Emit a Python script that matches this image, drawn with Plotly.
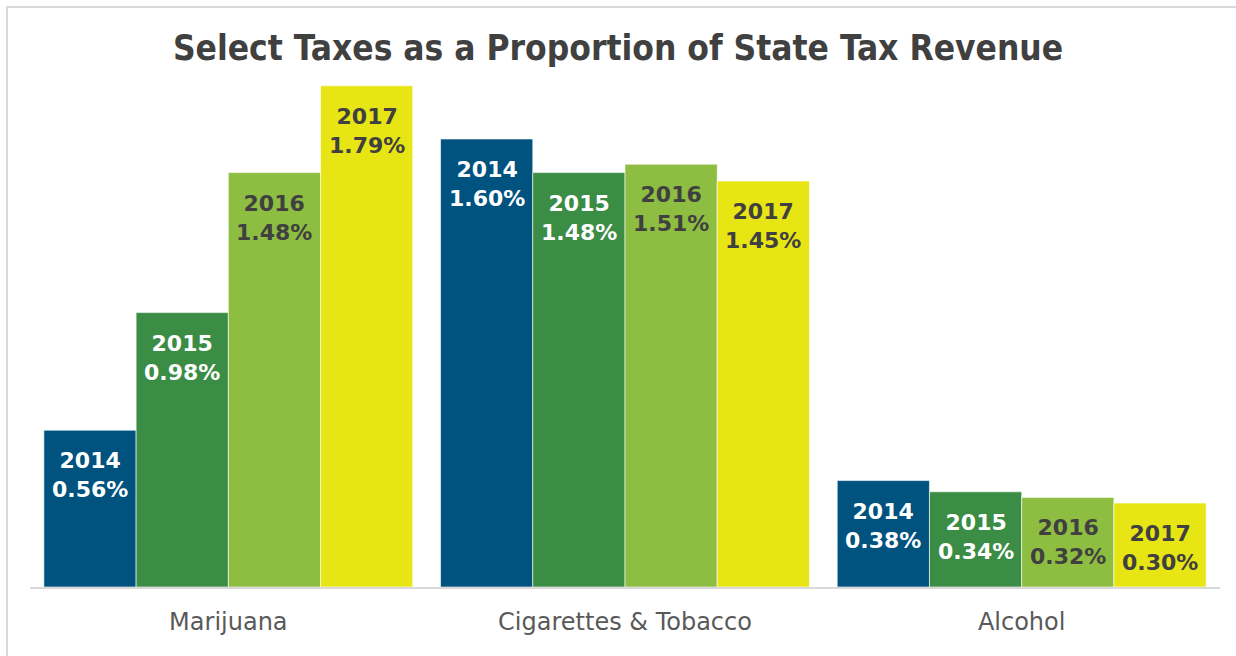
import plotly.graph_objects as go

# data
categories = ["Marijuana", "Cigarettes & Tobacco", "Alcohol"]
years = ["2014", "2015", "2016", "2017"]
shares = {
    "2014": [0.56, 1.60, 0.38],
    "2015": [0.98, 1.48, 0.34],
    "2016": [1.48, 1.51, 0.32],
    "2017": [1.79, 1.45, 0.30],
}

colors = {"2014": "#00527F", "2015": "#3B8C45", "2016": "#8DBD41", "2017": "#E8E514"}
text_colors = {"2014": "white", "2015": "white", "2016": "#404040", "2017": "#404040"}

bargap = 0.07
n = len(years)
bar_w = (1 - bargap) / n

fig = go.Figure()
for j, yr in enumerate(years):
    fig.add_trace(go.Bar(
        x=categories,
        y=shares[yr],
        name=yr,
        marker=dict(color=colors[yr], line=dict(color="rgba(255,255,255,0.6)", width=1)),
        hoverinfo="x+y+name",
    ))
    # labels sit a little below the top of each bar
    for i, v in enumerate(shares[yr]):
        fig.add_annotation(
            x=i + (j - (n - 1) / 2) * bar_w,
            y=v,
            xref="x", yref="y",
            text=f"<b>{yr}<br>{v:.2f}%</b>",
            showarrow=False,
            yanchor="top",
            yshift=-16,
            font=dict(family="DejaVu Sans", size=22, color=text_colors[yr]),
        )

# figure frame (top and left edges only, as in the original)
def px_x(p):
    return (p - 30) / 1190

def px_y(p):
    return (587 - p) / 504

frame = dict(color="#d9d9d9", width=2)
fig.add_shape(type="line", xref="paper", yref="paper",
              x0=px_x(6), x1=px_x(1236), y0=px_y(7), y1=px_y(7), line=frame)
fig.add_shape(type="line", xref="paper", yref="paper",
              x0=px_x(7), x1=px_x(7), y0=px_y(6), y1=px_y(656), line=frame)

fig.update_layout(
    title=dict(
        text="<b>Select Taxes as a Proportion of State Tax Revenue</b>",
        x=0.5, xanchor="center",
        y=1 - 48 / 656, yanchor="middle",
        font=dict(family="Liberation Sans Narrow, DejaVu Sans Condensed", size=35, color="#404040"),
    ),
    barmode="group",
    bargap=bargap,
    bargroupgap=0,
    showlegend=False,
    width=1236, height=656,
    margin=dict(l=30, r=16, t=83, b=69),
    plot_bgcolor="white",
    paper_bgcolor="white",
    xaxis=dict(
        showline=True, linecolor="#d9d9d9", linewidth=2,
        tickfont=dict(family="DejaVu Sans", size=24, color="#595959"),
        ticks="", ticklabelstandoff=12,
    ),
    yaxis=dict(range=[0, 1.8], visible=False, showgrid=False, zeroline=False),
)

fig.write_html("out.html", config={"displayModeBar": False},
               post_script="document.body.style.margin='0';")
